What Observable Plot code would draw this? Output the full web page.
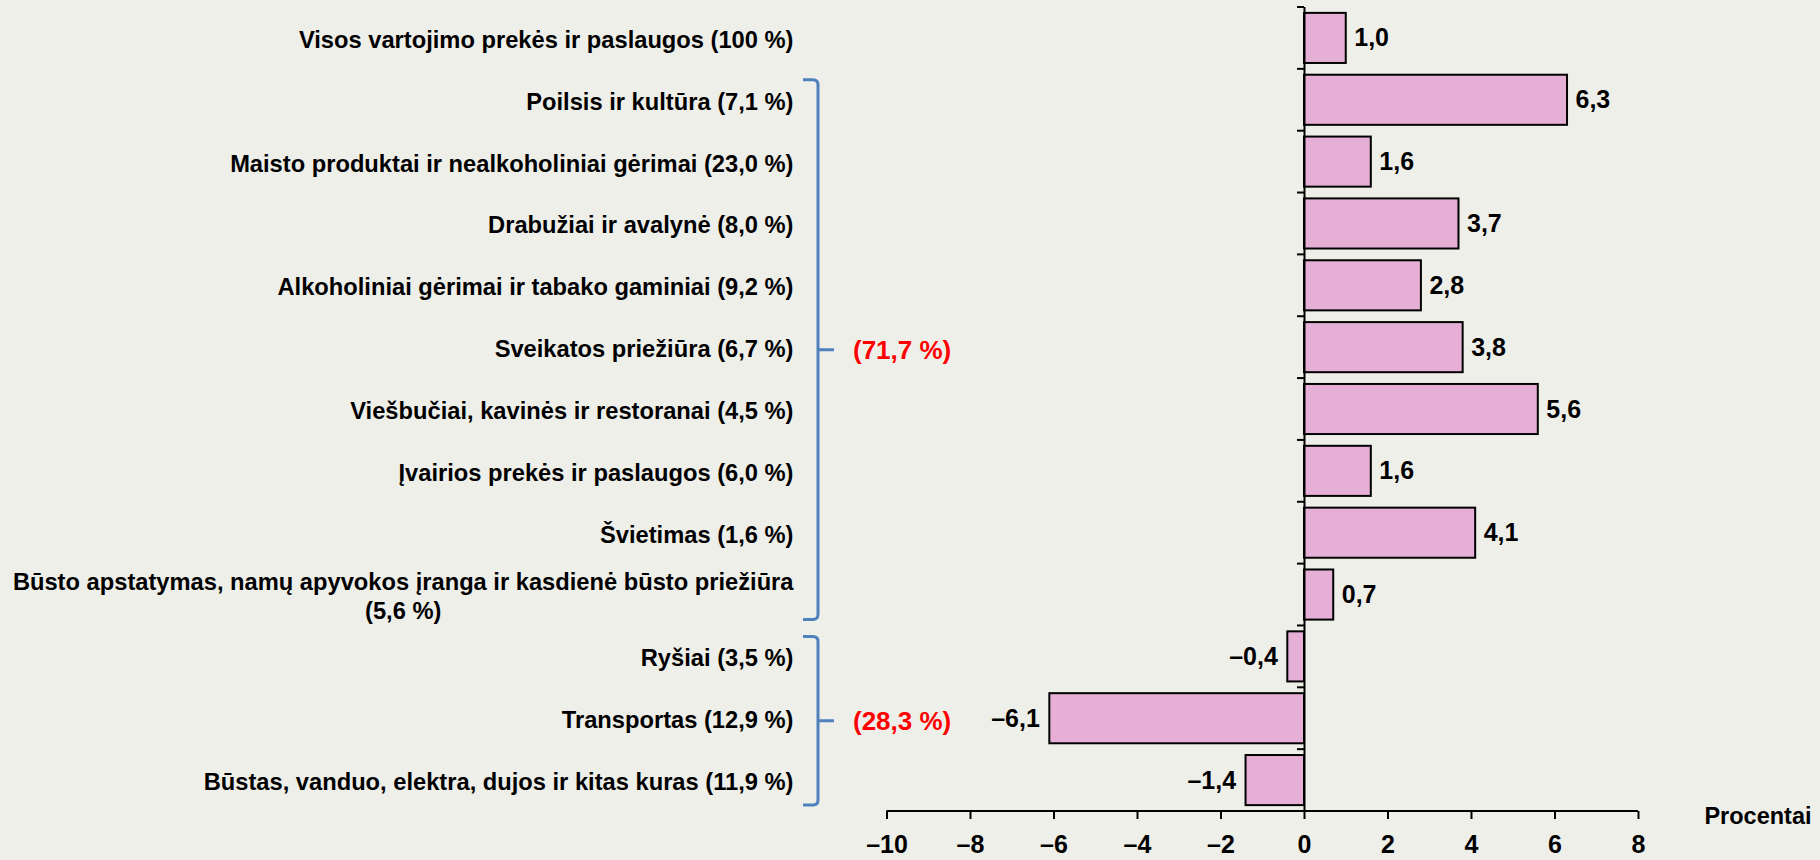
<!DOCTYPE html>
<html><head><meta charset="utf-8">
<script src="https://cdn.jsdelivr.net/npm/d3@7"></script>
<script src="https://cdn.jsdelivr.net/npm/@observablehq/plot@0.6"></script>
<style>
html,body{margin:0;padding:0;background:#efefea;}
#chart svg{display:block;}
g[aria-label="x-axis tick"] path, g[aria-label="x-axis tick"] line {stroke-width:2px;}
g[aria-label="x-axis tick label"] text {font-size:25px;}
</style></head><body><div id="chart"></div>
<script>
const categories = [
  "Visos vartojimo prekės ir paslaugos (100 %)",
  "Poilsis ir kultūra (7,1 %)",
  "Maisto produktai ir nealkoholiniai gėrimai (23,0 %)",
  "Drabužiai ir avalynė (8,0 %)",
  "Alkoholiniai gėrimai ir tabako gaminiai (9,2 %)",
  "Sveikatos priežiūra (6,7 %)",
  "Viešbučiai, kavinės ir restoranai (4,5 %)",
  "Įvairios prekės ir paslaugos (6,0 %)",
  "Švietimas (1,6 %)",
  "Būsto apstatymas, namų apyvokos įranga ir kasdienė būsto priežiūra\n(5,6 %)",
  "Ryšiai (3,5 %)",
  "Transportas (12,9 %)",
  "Būstas, vanduo, elektra, dujos ir kitas kuras (11,9 %)"
];
const values = [1.0, 6.3, 1.6, 3.7, 2.8, 3.8, 5.6, 1.6, 4.1, 0.7, -0.4, -6.1, -1.4];
const groupLabels = ["(71,7 %)", "(28,3 %)"];
const groupFirst = [categories[1], categories[10]];
const groupLast = [categories[9], categories[12]];
const xTicks = [-10, -8, -6, -4, -2, 0, 2, 4, 6, 8];
const axisLabel = "Procentai";

const data = categories.map((c, i) => ({category: c, value: values[i]}));
const fmtVal = v => (v < 0 ? "–" : "") + Math.abs(v).toFixed(1).replace(".", ",");
const fmtTick = v => (v < 0 ? "–" : "") + Math.abs(v);
const FONT = "'Liberation Sans', Arial, Helvetica, sans-serif";
const PAD_INNER = 0.19;

function structure(index, scales, vals, dims) {
  const x = scales.x, y = scales.y;
  const bw = y.bandwidth();
  const step = typeof y.step === "function" ? y.step() : bw / (1 - PAD_INNER);
  const gap = (step - bw) / 2;
  const top = c => y(c) - gap;
  const bottom = c => y(c) + bw + gap;
  const g = d3.create("svg:g");
  const y0 = dims.height - dims.marginBottom;
  g.append("line")
    .attr("x1", x(xTicks[0])).attr("x2", x(xTicks[xTicks.length - 1]))
    .attr("y1", y0).attr("y2", y0)
    .attr("stroke", "#000").attr("stroke-width", 2);
  const x0 = x(0);
  categories.forEach(c => {
    g.append("line")
      .attr("x1", x0 - 7).attr("x2", x0)
      .attr("y1", top(c)).attr("y2", top(c))
      .attr("stroke", "#000").attr("stroke-width", 2);
  });
  const bx = x(xTicks[0]) - 68.5;
  groupLabels.forEach((lab, i) => {
    const t = top(groupFirst[i]) + 11;
    const b = bottom(groupLast[i]) - 6;
    const m = (t + b) / 2;
    const r = 5;
    g.append("path")
      .attr("d", `M${bx - 15},${t}L${bx - r},${t}Q${bx},${t} ${bx},${t + r}L${bx},${b - r}Q${bx},${b} ${bx - r},${b}L${bx - 15},${b}M${bx},${m}L${bx + 16},${m}`)
      .attr("fill", "none").attr("stroke", "#4f81bd").attr("stroke-width", 3);
    g.append("text")
      .attr("x", bx + 35).attr("y", m).attr("dy", "0.35em")
      .attr("text-anchor", "start")
      .attr("fill", "#ff0000").attr("font-size", 26).attr("font-weight", "bold")
      .text(lab);
  });
  return g.node();
}

const plot = Plot.plot({
  width: 1820, height: 860,
  marginLeft: 886.5, marginRight: 182, marginTop: 7, marginBottom: 49,
  style: {background: "transparent", fontFamily: FONT, fontWeight: "bold", fontSize: "24px", color: "#000", overflow: "visible"},
  x: {domain: [xTicks[0], xTicks[xTicks.length - 1]], ticks: xTicks, tickFormat: fmtTick, tickSize: 8, tickPadding: 16, label: null},
  y: {domain: categories, paddingInner: PAD_INNER, paddingOuter: PAD_INNER / 2, round: false, axis: null},
  marks: [
    Plot.barX(data, {x: "value", y: "category", fill: "#e6b0d6", stroke: "#000", strokeWidth: 2}),
    Plot.ruleX([0], {stroke: "#000", strokeWidth: 2}),
    structure,
    Plot.text(data.filter(d => d.value >= 0), {x: "value", y: "category", text: d => fmtVal(d.value), textAnchor: "start", dx: 8, fontSize: 25, fill: "#000"}),
    Plot.text(data.filter(d => d.value < 0), {x: "value", y: "category", text: d => fmtVal(d.value), textAnchor: "end", dx: -10, fontSize: 25, fill: "#000"}),
    Plot.text(data, {y: "category", text: "category", frameAnchor: "left", textAnchor: "end", dx: -93.5, lineHeight: 1.24, fontSize: 23.7, fill: "#000"}),
    Plot.text([axisLabel], {frameAnchor: "bottom-right", textAnchor: "end", dx: 173, dy: 12, fontSize: 23.5, fill: "#000"})
  ]
});
document.getElementById("chart").appendChild(plot);

// center the second line of multi-line category labels under the first line
plot.querySelectorAll("text").forEach(t => {
  const spans = t.querySelectorAll("tspan");
  if (spans.length > 1) {
    const w = spans[0].getComputedTextLength();
    t.setAttribute("text-anchor", "middle");
    spans.forEach(s => s.setAttribute("x", -w / 2));
  }
});
</script>
</body></html>
